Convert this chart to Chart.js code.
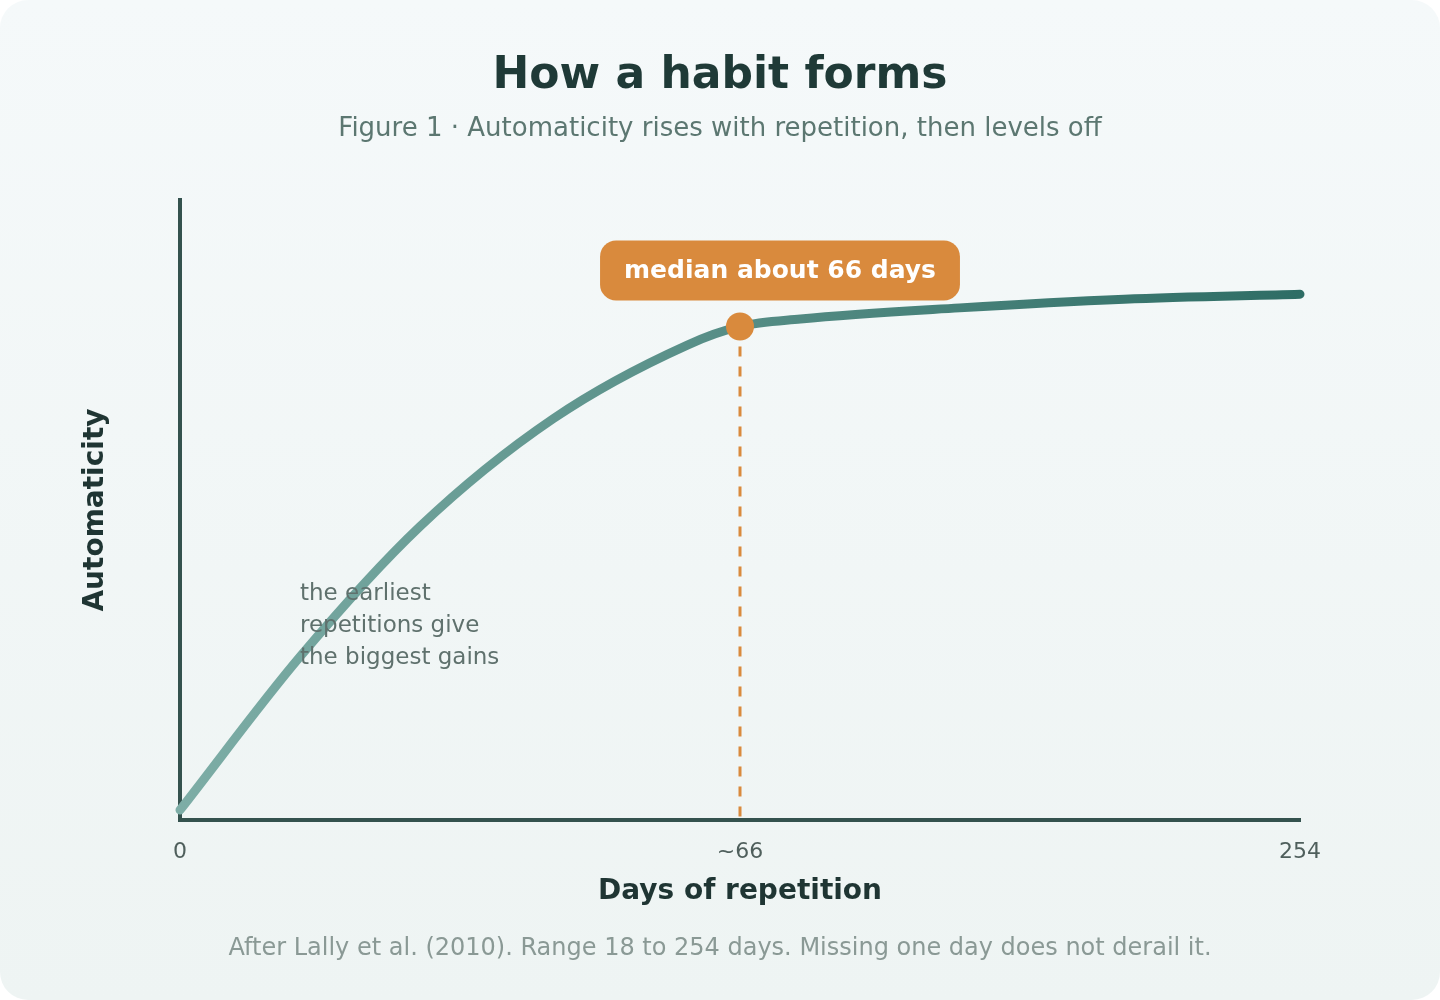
<!DOCTYPE html>
<html>
<head>
<meta charset="utf-8">
<title>How a habit forms</title>
<script src="https://cdn.jsdelivr.net/npm/chart.js@4.4.1/dist/chart.umd.min.js"></script>
<style>
  html, body { margin: 0; padding: 0; background: #ffffff; }
  body { width: 1440px; height: 1000px; font-family: 'DejaVu Sans', sans-serif; }
  .card {
    position: relative;
    width: 1440px;
    height: 1000px;
    border-radius: 28px;
    overflow: hidden;
    background: linear-gradient(180deg, #f5f9fa 0%, #eef4f3 100%);
  }
  #habitChart { position: absolute; left: 0; top: 0; }
  .txt { position: absolute; left: 0; width: 1440px; text-align: center; white-space: nowrap; }
  .title { top: 45px; line-height: 56px; font-size: 44px; font-weight: bold; color: #1f3a37; }
  .subtitle { top: 111px; line-height: 32px; font-size: 26px; color: #5c7771; }
  .footer { top: 931px; line-height: 32px; font-size: 24px; color: #8a9995; }
  .note { position: absolute; left: 300px; top: 576px; line-height: 32px; font-size: 23px; color: #5f716d; }
</style>
</head>
<body>
<div class="card">
  <canvas id="habitChart" width="1440" height="1000"></canvas>
  <div class="txt title">How a habit forms</div>
  <div class="txt subtitle">Figure 1 · Automaticity rises with repetition, then levels off</div>
  <div class="note">the earliest<br>repetitions give<br>the biggest gains</div>
  <div class="txt footer">After Lally et al. (2010). Range 18 to 254 days. Missing one day does not derail it.</div>
</div>
<script>
// position along the day axis (0 = first day, 50 = ~66 days, 100 = 254 days)
const axisProgress = [0, 10.7, 21.4, 33.3, 45.3, 50, 55.4, 69.6, 84.3, 100];
const automaticity = [1.6, 26.3, 47.3, 64.7, 76.6, 79.6, 80.8, 82.6, 84.0, 84.8];

const xTickPos = [0, 50, 100];
const xTickLabels = ['0', '~66', '254'];

const medianPos = 50;
const medianValue = 79.6;
const medianLabel = 'median about 66 days';

const orange = '#d98a3d';
const axisColor = '#34524e';

Chart.defaults.font.family = "'DejaVu Sans', sans-serif";

// rounded label box above the median point
const medianBox = {
    id: 'medianBox',
    afterDatasetsDraw(chart) {
        const pt = chart.getDatasetMeta(0).data[0];
        if (!pt) return;
        const c = chart.ctx;
        c.save();
        c.font = "bold 25px 'DejaVu Sans', sans-serif";
        const w = c.measureText(medianLabel).width + 48;
        const h = 60;
        const cx = pt.x + 40;
        const top = pt.y - 86;
        c.fillStyle = orange;
        c.beginPath();
        c.roundRect(cx - w / 2, top, w, h, 16);
        c.fill();
        c.fillStyle = '#ffffff';
        c.textAlign = 'center';
        c.textBaseline = 'middle';
        c.fillText(medianLabel, cx, top + h / 2 + 1);
        c.restore();
    }
};

const ctx = document.getElementById('habitChart').getContext('2d');
const habitChart = new Chart(ctx, {
    type: 'line',
    data: {
        datasets: [
            {
                // median marker
                data: [{ x: medianPos, y: medianValue }],
                showLine: false,
                pointRadius: 14,
                pointBackgroundColor: orange,
                pointBorderWidth: 0,
                order: 0
            },
            {
                // dashed drop line
                data: [{ x: medianPos, y: medianValue }, { x: medianPos, y: 0 }],
                borderColor: orange,
                borderWidth: 3,
                borderDash: [10, 10],
                pointRadius: 0,
                order: 1
            },
            {
                label: 'Automaticity',
                data: axisProgress.map((p, i) => ({ x: p, y: automaticity[i] })),
                borderWidth: 9,
                borderCapStyle: 'round',
                borderJoinStyle: 'round',
                cubicInterpolationMode: 'monotone',
                pointRadius: 0,
                clip: false,
                order: 2,
                borderColor: function (context) {
                    const area = context.chart.chartArea;
                    if (!area) return '#4e8b82';
                    const g = context.chart.ctx.createLinearGradient(area.left, 0, area.right, 0);
                    g.addColorStop(0, '#7dada6');
                    g.addColorStop(1, '#2e6d65');
                    return g;
                }
            }
        ]
    },
    options: {
        responsive: false,
        animation: false,
        devicePixelRatio: 1,
        layout: {
            padding: { left: 0, top: 200, right: 140, bottom: 0 }
        },
        plugins: {
            legend: { display: false },
            tooltip: { enabled: false }
        },
        scales: {
            x: {
                type: 'linear',
                min: 0,
                max: 100,
                afterFit: function (scale) { scale.height = 180; },
                afterBuildTicks: function (scale) {
                    scale.ticks = xTickPos.map(v => ({ value: v }));
                },
                grid: { display: false, drawTicks: false },
                border: { display: true, color: axisColor, width: 4 },
                ticks: {
                    padding: 19,
                    color: '#4f5f5c',
                    font: { size: 22 },
                    maxRotation: 0,
                    callback: function (value, index) {
                        return xTickLabels[index];
                    }
                },
                title: {
                    display: true,
                    text: 'Days of repetition',
                    color: '#1f3533',
                    font: { size: 28, weight: 'bold' },
                    padding: { top: 0, bottom: 91 }
                }
            },
            y: {
                min: 0,
                max: 100,
                afterFit: function (scale) { scale.width = 180; },
                grid: { display: false, drawTicks: false },
                border: { display: true, color: axisColor, width: 4 },
                ticks: { display: false },
                title: {
                    display: true,
                    text: 'Automaticity',
                    color: '#1f3533',
                    font: { size: 28, weight: 'bold' },
                    padding: { top: 79, bottom: 0 }
                }
            }
        }
    },
    plugins: [medianBox]
});
</script>
</body>
</html>
